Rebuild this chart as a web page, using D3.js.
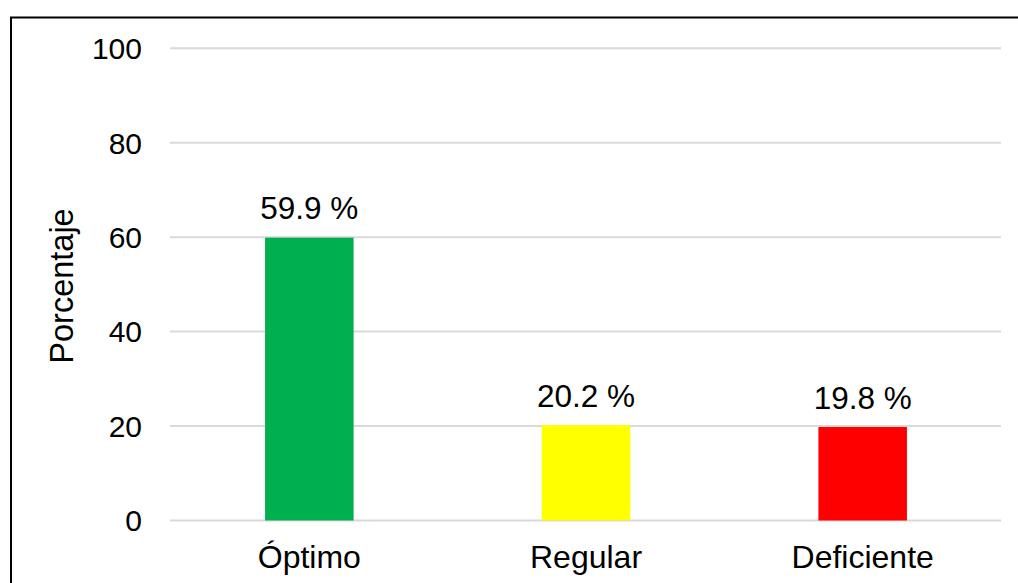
<!DOCTYPE html>
<html>
<head>
<meta charset="utf-8">
<script src="https://cdn.jsdelivr.net/npm/d3@7"></script>
<style>
  html, body { margin: 0; padding: 0; background: #fff; }
  svg { display: block; font-family: "Liberation Sans", Arial, sans-serif; }
</style>
</head>
<body>
<svg id="chart" width="1018" height="583"></svg>
<script>
const categories = ["Óptimo", "Regular", "Deficiente"];
const values = [59.9, 20.2, 19.8];
const labels = ["59.9 %", "20.2 %", "19.8 %"];
const colors = ["#00B050", "#FFFF00", "#FF0000"];
const yTicks = [0, 20, 40, 60, 80, 100];
const yTitle = "Porcentaje";

const svg = d3.select("#chart");

// frame
svg.append("rect")
  .attr("x", 11).attr("y", 17.5)
  .attr("width", 1030).attr("height", 620)
  .attr("fill", "none").attr("stroke", "#000").attr("stroke-width", 2);

const plot = { left: 170, right: 1001, top: 48.3, bottom: 520.5 };

const x = d3.scaleBand().domain(categories)
  .range([plot.left + 1, plot.right]).paddingInner(0.68).paddingOuter(0.34);
const y = d3.scaleLinear().domain([0, 100]).range([plot.bottom, plot.top]);

// gridlines
svg.append("g").selectAll("line").data(yTicks).join("line")
  .attr("x1", plot.left).attr("x2", plot.right)
  .attr("y1", d => y(d)).attr("y2", d => y(d))
  .attr("stroke", "#d9d9d9").attr("stroke-width", 2);

// y tick labels
svg.append("g").selectAll("text").data(yTicks).join("text")
  .attr("x", 142).attr("y", d => y(d))
  .attr("dy", "0.36em")
  .attr("text-anchor", "end")
  .attr("font-size", 30)
  .attr("fill", "#000")
  .text(d => d);

// bars
svg.append("g").selectAll("rect").data(values).join("rect")
  .attr("x", (d, i) => x(categories[i]))
  .attr("width", x.bandwidth())
  .attr("y", d => y(d))
  .attr("height", d => y(0) - y(d))
  .attr("fill", (d, i) => colors[i]);

// data labels
svg.append("g").selectAll("text").data(values).join("text")
  .attr("x", (d, i) => x(categories[i]) + x.bandwidth() / 2)
  .attr("y", d => y(d) - 18.5)
  .attr("text-anchor", "middle")
  .attr("font-size", 31.5)
  .attr("fill", "#000")
  .text((d, i) => labels[i]);

// category labels
svg.append("g").selectAll("text").data(categories).join("text")
  .attr("x", d => x(d) + x.bandwidth() / 2)
  .attr("y", 567.5)
  .attr("text-anchor", "middle")
  .attr("font-size", 32)
  .attr("fill", "#000")
  .text(d => d);

// y axis title
svg.append("text")
  .attr("transform", "translate(73,286) rotate(-90)")
  .attr("text-anchor", "middle")
  .attr("font-size", 32.5)
  .attr("fill", "#000")
  .text(yTitle);
</script>
</body>
</html>
